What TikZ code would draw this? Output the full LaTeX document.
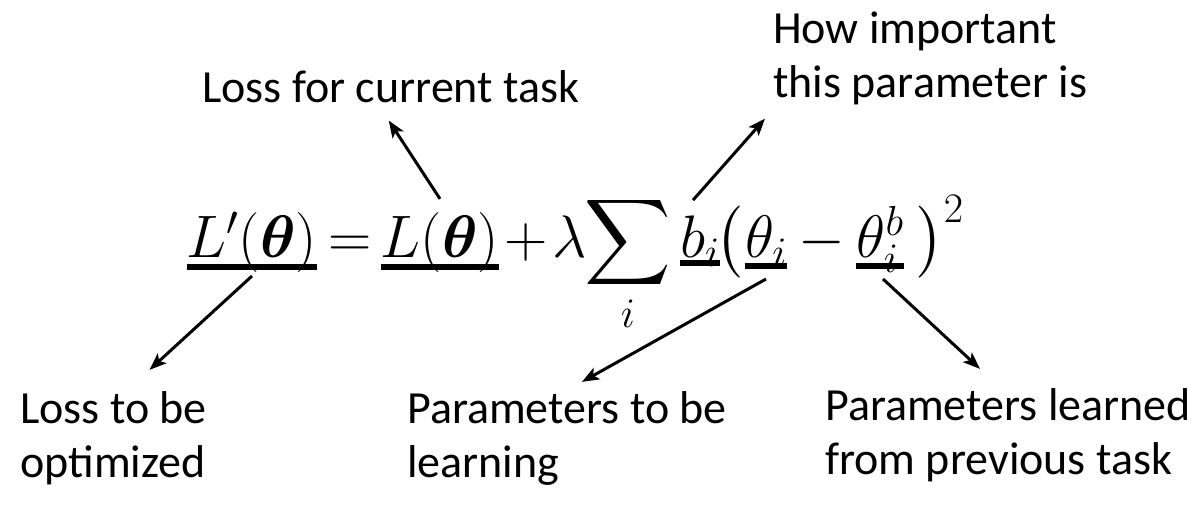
\RequirePackage{fix-cm}
\documentclass[tikz,border=0pt]{standalone}
\usepackage{amsmath, amssymb}
\usepackage{fontspec}
\newfontfamily\labelfont{Carlito}
\usepackage{tikz}
\usetikzlibrary{arrows.meta}

\begin{document}
\begin{tikzpicture}[x=1pt, y=-1pt, >={Stealth[length=17pt,width=13pt,inset=4pt]},
  term/.style={inner sep=0pt, anchor=base, font=\fontsize{60}{72}\selectfont},
  note/.style={inner sep=0pt, anchor=base west, align=left, font=\labelfont\fontsize{46}{54}\selectfont},
  uline/.style={line width=6.5pt},
  pointer/.style={->, line width=3pt}]
\useasboundingbox (0,0) rectangle (1198,515);
% the penalised loss
\node[term] (lp) at (252,257) {$L'(\boldsymbol{\theta})$};
\node[term] (eqs) at (350,257) {$=$};
\node[term] (lt) at (440,257) {$L(\boldsymbol{\theta})$};
\node[term] (plus) at (526,257) {$+$};
\node[term] (lam) at (570,257) {$\lambda$};
\node[term] (sum) at (628,257) {$\displaystyle\sum_{i}$};
\node[term] (bi) at (700,257) {$b_i$};
\node[term] (lpar) at (729,257) {$\big($};
\node[term] (thi) at (766,257) {$\theta_i$};
\node[term] (minus) at (822,257) {$-$};
\node[term] (thb) at (880,257) {$\theta_i^b$};
\node[term] (rpar) at (940,257) {$\big)^2$};
% underlines
\draw[uline] ([yshift=-10pt]lp.base west) -- ([yshift=-10pt]lp.base east);
\draw[uline] ([yshift=-10pt]lt.base west) -- ([yshift=-10pt]lt.base east);
\draw[uline] ([yshift=-6pt]bi.base west) -- ([yshift=-6pt]bi.base east);
\draw[uline] ([yshift=-9pt]thi.base west) -- ([yshift=-9pt]thi.base east);
\draw[uline] ([yshift=-9pt]thb.base west) -- ([yshift=-9pt]thb.base east);
% labels (base = last line)
\node[note] (cur) at (202,102) {Loss for current task};
\node[note] (imp) at (773,97) {How important\\this parameter is};
\node[note] (opt) at (20,477) {Loss to be\\optimized};
\node[note] (plearn) at (407,477) {Parameters to be\\learning};
\node[note] (pprev) at (825,474) {Parameters learned\\from previous task};
% pointers
\draw[pointer] ([yshift=-19pt]lp.base) -- ([xshift=36pt,yshift=21pt]opt.north);
\draw[pointer] ([yshift=13pt]lt.north) -- ([xshift=-2pt,yshift=-18pt]cur.south);
\draw[pointer] ([xshift=-7pt,yshift=15pt]bi.north) -- ([xshift=-8pt,yshift=-14pt]imp.south west);
\draw[pointer] ([yshift=-22pt]thi.base) -- ([xshift=15pt,yshift=9pt]plearn.north);
\draw[pointer] ([xshift=3pt,yshift=-22pt]thb.base) -- ([xshift=-28pt,yshift=19pt]pprev.north);
\end{tikzpicture}
\end{document}
